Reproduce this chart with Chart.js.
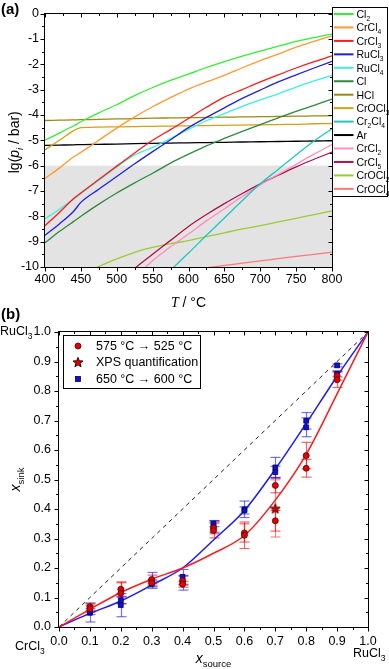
<!DOCTYPE html>
<html><head><meta charset="utf-8">
<script src="https://cdn.jsdelivr.net/npm/chart.js@4.4.1/dist/chart.umd.min.js"></script>
<style>
html,body{margin:0;padding:0;background:#fff;}
#wrap{position:relative;width:389px;height:669px;overflow:hidden;background:#fff;}
canvas{position:absolute;left:0;top:0;}
</style></head><body>
<div id="wrap"><canvas id="ca" width="389" height="669"></canvas><canvas id="cb" width="389" height="669"></canvas></div>
<script>
// ---------- Panel (a) data: lg(p_i / bar) vs T / °C ----------
const TEMPS  = [400,420,440,450,475,500,525,550,575,600,625,650,675,700,725,750,775,800];
const CL2    = [-5.0,-4.72,-4.43,-4.27,-3.92,-3.6,-3.24,-2.92,-2.64,-2.39,-2.13,-1.9,-1.68,-1.48,-1.29,-1.1,-0.95,-0.81];
const CRCL4  = [-6.5,-6.1,-5.65,-5.48,-5.0,-4.52,-4.08,-3.68,-3.32,-2.98,-2.7,-2.44,-2.14,-1.86,-1.6,-1.33,-1.1,-0.88];
const CRCL3  = [-8.37,-7.85,-7.3,-7.08,-6.55,-6.02,-5.5,-5.0,-4.58,-4.14,-3.7,-3.3,-3.0,-2.7,-2.42,-2.15,-1.9,-1.67];
const RUCL3  = [-8.75,-8.3,-7.8,-7.45,-6.93,-6.43,-5.93,-5.45,-4.98,-4.5,-4.1,-3.72,-3.35,-3.02,-2.7,-2.42,-2.15,-1.89];
const RUCL4  = [-8.1,-7.72,-7.32,-7.1,-6.58,-6.05,-5.58,-5.28,-4.93,-4.57,-4.23,-3.95,-3.66,-3.41,-3.17,-2.9,-2.66,-2.44];
const CL     = [-9.04,-8.6,-8.2,-8.0,-7.52,-7.08,-6.68,-6.3,-5.9,-5.55,-5.22,-4.93,-4.65,-4.38,-4.12,-3.86,-3.62,-3.38];
const HCL    = [-4.22,-4.21,-4.2,-4.19,-4.18,-4.16,-4.15,-4.13,-4.12,-4.11,-4.1,-4.09,-4.08,-4.07,-4.06,-4.05,-4.04,-4.03];
const CROCL3 = [-5.38,-5.0,-4.62,-4.5,-4.48,-4.47,-4.46,-4.45,-4.44,-4.43,-4.42,-4.41,-4.4,-4.39,-4.38,-4.37,-4.35,-4.34];
const CR2CL4 = [null,null,null,null,null,null,null,null,-10.12,-9.45,-8.75,-8.07,-7.38,-6.72,-6.15,-5.58,-5.03,-4.55];
const AR     = [-5.2,-5.19,-5.18,-5.17,-5.16,-5.15,-5.13,-5.12,-5.11,-5.1,-5.09,-5.08,-5.07,-5.06,-5.05,-5.04,-5.03,-5.02];
const CRCL2  = [null,null,null,null,null,null,-10.4,-9.75,-9.2,-8.7,-8.18,-7.7,-7.22,-6.76,-6.35,-5.95,-5.55,-5.17];
const CRCL5  = [null,null,null,null,null,null,-10.05,-9.5,-8.95,-8.4,-7.93,-7.5,-7.1,-6.72,-6.38,-6.05,-5.75,-5.47];
const CROCL2 = [null,null,null,-10.3,-9.98,-9.68,-9.42,-9.23,-9.08,-8.96,-8.8,-8.65,-8.5,-8.37,-8.22,-8.08,-7.93,-7.79];
const CROCL4 = [null,null,null,null,null,null,null,null,null,null,-10.03,-9.94,-9.85,-9.76,-9.67,-9.58,-9.5,-9.41];
const SPECIES_A = ['Cl_2','CrCl_4','CrCl_3','RuCl_3','RuCl_4','Cl','HCl','CrOCl_3','Cr_2Cl_4','Ar','CrCl_2','CrCl_5','CrOCl_2','CrOCl_4'];
const GREY_RANGE = [-10,-6];

// ---------- Panel (b) data: x_sink vs x_source ----------
const X_POINTS   = [0.1,0.1,0.2,0.2,0.3,0.3,0.4,0.4,0.5,0.5,0.6,0.6,0.7,0.7,0.8,0.8,0.9,0.9];
const Y_575      = [0.069,0.062,0.128,0.114,0.161,0.150,0.157,0.145,0.336,0.327,0.319,0.311,0.48,0.36,0.581,0.538,0.852,0.838];
const ERR_575    = [0.013,0.012,0.025,0.036,0.015,0.01,0.015,0.01,0.02,0.025,0.031,0.045,0.025,0.035,0.045,0.03,0.015,0.026];
const Y_650      = [0.048,0.052,0.091,0.074,0.158,0.146,0.170,0.150,0.350,0.341,0.399,0.395,0.541,0.525,0.699,0.677,0.887,0.858];
const ERR_650    = [0.031,0.01,0.011,0.039,0.027,0.01,0.025,0.025,0.01,0.02,0.028,0.012,0.034,0.02,0.028,0.032,0.005,0.01];
const X_XPS      = [0.7];
const Y_XPS      = [0.402];
const ERR_XPS    = [0.097];
const FIT_X      = [0,0.1,0.2,0.3,0.4,0.5,0.6,0.7,0.8,0.9,1.0];
const FIT_575    = [0,0.06,0.117,0.162,0.2,0.25,0.31,0.43,0.585,0.79,1.0];
const FIT_650    = [0,0.046,0.088,0.142,0.2,0.295,0.395,0.535,0.69,0.85,1.0];
const DIAG_X     = [0,1];
const DIAG_Y     = [0,1];
const LEGEND_B   = ['575 °C \u2192 525 °C','XPS quantification','650 °C \u2192 600 °C'];

// ---------- styles ----------
const FAM = "'Liberation Sans', Arial, Helvetica, sans-serif";
const COLORS_A = ['#33ee33','#ff9933','#ff1a1a','#1f1fe0','#3cf0dc','#2e8b3a','#9a8a10','#d4a017','#1ec8c0','#000000','#ff8cc0','#b0104a','#9acd32','#ff7878'];
const VALUES_A = [CL2,CRCL4,CRCL3,RUCL3,RUCL4,CL,HCL,CROCL3,CR2CL4,AR,CRCL2,CRCL5,CROCL2,CROCL4];

Chart.defaults.font.family = FAM;
Chart.defaults.color = '#000';

function parseRich(s){
  const parts=[]; let i=0, buf='';
  while(i<s.length){
    if(s[i]==='_'){
      if(buf){parts.push({t:buf});buf='';}
      if(s[i+1]==='{'){const j=s.indexOf('}',i); parts.push({t:s.slice(i+2,j),sub:true}); i=j+1;}
      else {parts.push({t:s[i+1],sub:true}); i+=2;}
    } else {buf+=s[i]; i++;}
  }
  if(buf) parts.push({t:buf});
  return parts;
}
function fontOf(p,size,subRatio){const sz=p.sub?size*(subRatio||0.68):size; return (p.italic?'italic ':'')+(p.bold?'bold ':'')+sz.toFixed(1)+'px '+(p.family||FAM);}
function richWidth(ctx,parts,size,subRatio){let w=0; for(const p of parts){ctx.font=fontOf(p,size,subRatio); w+=ctx.measureText(p.t).width;} return w;}
function drawRich(ctx,parts,x,y,size,align,subRatio){
  const w=richWidth(ctx,parts,size,subRatio);
  let cx = align==='center'? x-w/2 : (align==='right'? x-w : x);
  ctx.textBaseline='alphabetic'; ctx.textAlign='left';
  for(const p of parts){ctx.font=fontOf(p,size,subRatio); ctx.fillText(p.t,cx,y+(p.sub?size*0.28:0)); cx+=ctx.measureText(p.t).width;}
}
function seg(ctx,x1,y1,x2,y2){ctx.beginPath();ctx.moveTo(x1,y1);ctx.lineTo(x2,y2);ctx.stroke();}

function drawFrame(chart, xMajor, xMinor, yMajor, yMinor){
  const {ctx, chartArea:a, scales:{x,y}} = chart;
  ctx.save(); ctx.strokeStyle='#000'; ctx.lineWidth=1;
  const L=Math.round(a.left)-0.5, R=Math.round(a.right)+0.5, T=Math.round(a.top)-0.5, B=Math.round(a.bottom)+0.5;
  ctx.strokeRect(L,T,R-L,B-T);
  const nx=Math.round((x.max-x.min)/xMinor);
  for(let k=0;k<=nx;k++){
    const v=x.min+k*xMinor; const major=Math.abs((v-x.min)/xMajor-Math.round((v-x.min)/xMajor))<1e-6;
    const len=major?4:2.5; const px=Math.round(x.getPixelForValue(v))+0.5;
    seg(ctx,px,B,px,B+len); seg(ctx,px,T,px,T+len);
  }
  const ny=Math.round((y.max-y.min)/yMinor);
  for(let k=0;k<=ny;k++){
    const v=y.min+k*yMinor; const major=Math.abs((v-y.min)/yMajor-Math.round((v-y.min)/yMajor))<1e-6;
    const len=major?4:2.5; const py=Math.round(y.getPixelForValue(v))+0.5;
    seg(ctx,L,py,L-len,py); seg(ctx,R,py,R-len,py);
  }
  ctx.restore();
}

// ---------- Panel (a) ----------
const panelA = {
  id:'panelA',
  beforeDatasetsDraw(chart){
    const {ctx, scales:{x,y}} = chart;
    ctx.save();
    ctx.fillStyle='#e3e3e3';
    const x0=x.getPixelForValue(x.min), x1=x.getPixelForValue(x.max);
    const y0=y.getPixelForValue(GREY_RANGE[1]), y1=y.getPixelForValue(GREY_RANGE[0]);
    ctx.fillRect(x0,y0,x1-x0,y1-y0);
    ctx.restore();
  },
  afterDatasetsDraw(chart){
    drawFrame(chart,50,25,1,0.5);
  },
  afterDraw(chart){
    const {ctx, chartArea:a} = chart;
    ctx.save();
    // legend
    const lx=Math.round(a.right)+0.5, top=7.5, bottom=196.5, rx=387.5;
    ctx.fillStyle='#fff'; ctx.fillRect(lx,top,rx-lx,bottom-top);
    ctx.strokeStyle='#000'; ctx.lineWidth=1; ctx.strokeRect(lx,top,rx-lx,bottom-top);
    chart.data.datasets.forEach((ds,k)=>{
      const yy=14+k*13.45;
      ctx.strokeStyle=ds.borderColor; ctx.lineWidth=2;
      seg(ctx,lx+1.5,yy,lx+21,yy);
      ctx.fillStyle='#000';
      drawRich(ctx,parseRich(ds.label),lx+24,yy+3.8,10.5,'left',0.64);
    });
    // titles
    ctx.fillStyle='#000';
    ctx.font='bold 15px '+FAM; ctx.textAlign='left'; ctx.textBaseline='alphabetic';
    ctx.fillText('(a)',1,14);
    drawRich(ctx,[{t:'T',italic:true,family:"'Liberation Serif', serif"},{t:' / °C'}],(a.left+a.right)/2,307,14,'center');
    ctx.save(); ctx.translate(19,(a.top+a.bottom)/2+2); ctx.rotate(-Math.PI/2);
    drawRich(ctx,[{t:'lg('},{t:'p',italic:true},{t:'i',sub:true,italic:true},{t:' / bar)'}],0,0,14,'center');
    ctx.restore();
    ctx.restore();
  }
};

new Chart(document.getElementById('ca'),{
  type:'line',
  data:{datasets: SPECIES_A.map((name,k)=>({
    label:name,
    data: TEMPS.map((t,i)=>({x:t,y:VALUES_A[k][i]})),
    borderColor:COLORS_A[k], borderWidth:1.3, pointRadius:0, fill:false,
    cubicInterpolationMode:'monotone'
  }))},
  options:{
    responsive:false, animation:false, events:[],
    layout:{padding:{left:0,top:8,right:57,bottom:382}},
    plugins:{legend:{display:false},tooltip:{enabled:false}},
    scales:{
      x:{type:'linear',min:400,max:800,
         ticks:{stepSize:50,padding:5,font:{size:12.5},color:'#000',maxRotation:0,autoSkip:false},
         grid:{display:false,drawTicks:false},border:{display:false},
         afterFit(s){s.height=20;}},
      y:{type:'linear',min:-10,max:0,
         ticks:{stepSize:1,padding:6,font:{size:12.5},color:'#000',autoSkip:false},
         grid:{display:false,drawTicks:false},border:{display:false},
         afterFit(s){s.width=45;}}
    }
  },
  plugins:[panelA]
});

// ---------- Panel (b) ----------
function makeStar(r){
  const c=document.createElement('canvas'); const s=Math.ceil(r*2+3); c.width=s; c.height=s;
  const g=c.getContext('2d'); g.translate(s/2,s/2+0.6); g.beginPath();
  for(let k=0;k<10;k++){const rr=k%2?r*0.42:r; const ang=-Math.PI/2+k*Math.PI/5; g.lineTo(rr*Math.cos(ang),rr*Math.sin(ang));}
  g.closePath(); g.fillStyle='#e00000'; g.fill(); g.lineWidth=1; g.strokeStyle='#3a0000'; g.stroke();
  return c;
}
const STAR = makeStar(5.2);
const pts=(xs,ys)=>xs.map((v,i)=>({x:v,y:ys[i]}));

const panelB = {
  id:'panelB',
  beforeDatasetsDraw(chart){
    const {ctx, scales:{x,y}} = chart;
    ctx.save(); ctx.lineWidth=1.2;
    chart.data.datasets.forEach(ds=>{
      if(!ds.errs) return;
      ctx.strokeStyle=ds.errColor;
      ds.data.forEach((p,i)=>{
        const e=ds.errs[i]; const px=Math.round(x.getPixelForValue(p.x))+0.5;
        const y1=y.getPixelForValue(p.y-e), y2=y.getPixelForValue(p.y+e);
        seg(ctx,px,y1,px,y2); seg(ctx,px-5,y1,px+5,y1); seg(ctx,px-5,y2,px+5,y2);
      });
    });
    ctx.restore();
  },
  afterDatasetsDraw(chart){ drawFrame(chart,0.1,0.05,0.1,0.05); },
  afterDraw(chart){
    const {ctx, chartArea:a} = chart;
    ctx.save();
    // legend box
    const L=63.5,T=335.5,R=200.5,B=388.5;
    ctx.fillStyle='#fff'; ctx.fillRect(L,T,R-L,B-T);
    ctx.strokeStyle='#000'; ctx.lineWidth=1; ctx.strokeRect(L,T,R-L,B-T);
    const ys=[346,362,379];
    ctx.beginPath(); ctx.arc(78,ys[0],3,0,Math.PI*2); ctx.fillStyle='#e00000'; ctx.fill(); ctx.strokeStyle='#5a0000'; ctx.lineWidth=0.8; ctx.stroke();
    ctx.drawImage(STAR,78-STAR.width/2,ys[1]-STAR.height/2);
    ctx.fillStyle='#1010d0'; ctx.fillRect(75.5,ys[2]-2.5,5,5); ctx.strokeStyle='#000060'; ctx.strokeRect(75.5,ys[2]-2.5,5,5);
    ctx.fillStyle='#000'; ctx.font='12.5px '+FAM; ctx.textAlign='left'; ctx.textBaseline='middle';
    LEGEND_B.forEach((t,k)=>ctx.fillText(t,96,ys[k]+0.5));
    // labels
    ctx.font='bold 15px '+FAM; ctx.textBaseline='alphabetic'; ctx.fillText('(b)',1,319);
    drawRich(ctx,parseRich('RuCl_3'),0,335,12.5,'left');
    drawRich(ctx,parseRich('CrCl_3'),15,650,12.5,'left');
    drawRich(ctx,parseRich('RuCl_3'),353,657,12.5,'left');
    drawRich(ctx,[{t:'x',italic:true},{t:'source',sub:true}],(a.left+a.right)/2,663,14,'center');
    ctx.save(); ctx.translate(20,(a.top+a.bottom)/2); ctx.rotate(-Math.PI/2);
    drawRich(ctx,[{t:'x',italic:true},{t:'sink',sub:true}],0,0,14,'center');
    ctx.restore();
    ctx.restore();
  }
};

new Chart(document.getElementById('cb'),{
  type:'line',
  data:{datasets:[
    {label:LEGEND_B[1], data:pts(X_XPS,Y_XPS), errs:ERR_XPS, errColor:'rgba(235,40,40,0.55)', showLine:false,
     pointStyle:STAR, pointRadius:5},
    {label:LEGEND_B[0], data:pts(X_POINTS,Y_575), errs:ERR_575, errColor:'rgba(235,0,0,0.6)', showLine:false,
     pointStyle:'circle', pointRadius:3, backgroundColor:'#e00000', borderColor:'#5a0000', borderWidth:0.8},
    {label:LEGEND_B[2], data:pts(X_POINTS,Y_650), errs:ERR_650, errColor:'rgba(0,0,230,0.55)', showLine:false,
     pointStyle:'rect', pointRadius:3.4, backgroundColor:'#1010d0', borderColor:'#000060', borderWidth:0.8},
    {label:'fit 575', data:pts(FIT_X,FIT_575), borderColor:'#ff1a1a', borderWidth:1.5, pointRadius:0, cubicInterpolationMode:'monotone'},
    {label:'fit 650', data:pts(FIT_X,FIT_650), borderColor:'#1a1aff', borderWidth:1.5, pointRadius:0, cubicInterpolationMode:'monotone'},
    {label:'ideal', data:pts(DIAG_X,DIAG_Y), borderColor:'#222', borderWidth:1, borderDash:[4,4], pointRadius:0}
  ]},
  options:{
    responsive:false, animation:false, events:[],
    layout:{padding:{left:0,top:332,right:21,bottom:22}},
    plugins:{legend:{display:false},tooltip:{enabled:false}},
    scales:{
      x:{type:'linear',min:0,max:1,
         ticks:{stepSize:0.1,padding:7,font:{size:12.5},color:'#000',maxRotation:0,autoSkip:false,callback:v=>v.toFixed(1)},
         grid:{display:false,drawTicks:false},border:{display:false},
         afterFit(s){s.height=20;}},
      y:{type:'linear',min:0,max:1,
         ticks:{stepSize:0.1,padding:8,font:{size:12.5},color:'#000',autoSkip:false,callback:v=>v.toFixed(1)},
         grid:{display:false,drawTicks:false},border:{display:false},
         afterFit(s){s.width=59;}}
    }
  },
  plugins:[panelB]
});
</script>
</body></html>
